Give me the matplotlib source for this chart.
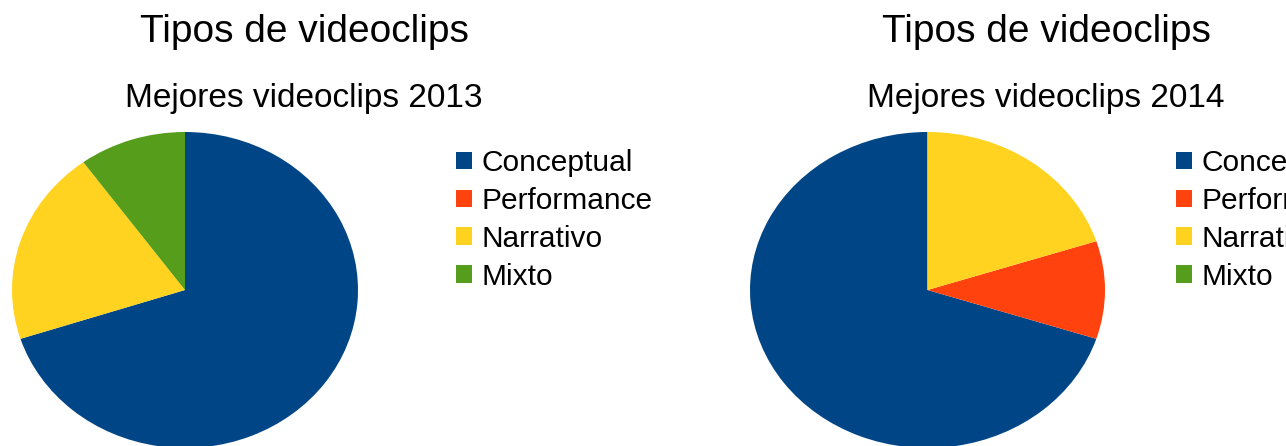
import matplotlib
matplotlib.use("Agg")
import matplotlib.pyplot as plt
from matplotlib.patches import Patch

plt.rcParams['font.family'] = ['Liberation Sans', 'DejaVu Sans']

# datos
categorias = ['Conceptual', 'Performance', 'Narrativo', 'Mixto']
colores = ['#004586', '#ff420e', '#ffd320', '#579d1c']
valores_2013 = [70, 0, 20, 10]
valores_2014 = [70, 10, 20, 0]
titulo = 'Tipos de videoclips'
subtitulo_2013 = 'Mejores videoclips 2013'
subtitulo_2014 = 'Mejores videoclips 2014'

W, H = 1286, 446
fig = plt.figure(figsize=(W / 100, H / 100), dpi=100)

def px(x0, y0, w, h):
    # caja en pixeles (desde arriba) -> fraccion de figura
    return [x0 / W, (H - y0 - h) / H, w / W, h / H]

def grafica(x0, ancho, valores, sentido, subt, cx, leg_x):
    ax = fig.add_axes(px(x0, 132, ancho, 316))
    ax.pie(valores, colors=colores, startangle=90, counterclock=sentido,
           wedgeprops={'linewidth': 0})
    ax.set_aspect('auto')
    ax.set_xlim(-1, 1)
    ax.set_ylim(-1, 1)
    ax.axis('off')
    fig.text(cx / W, 1 - 32 / H, titulo, ha='center', va='center', fontsize=28)
    fig.text(cx / W, 1 - 99 / H, subt, ha='center', va='center', fontsize=24)
    manijas = [Patch(facecolor=c, edgecolor='none') for c in colores]
    fig.legend(manijas, categorias, loc='upper left',
               bbox_to_anchor=(leg_x / W, 1 - 149 / H), frameon=False,
               fontsize=21.5, handlelength=0.52, handleheight=0.52,
               handletextpad=0.35, labelspacing=0.33, borderpad=0,
               borderaxespad=0)

grafica(12, 346, valores_2013, False, subtitulo_2013, 304, 456)
grafica(750, 355, valores_2014, True, subtitulo_2014, 1046, 1176)

fig.savefig('out.png', dpi=100)
